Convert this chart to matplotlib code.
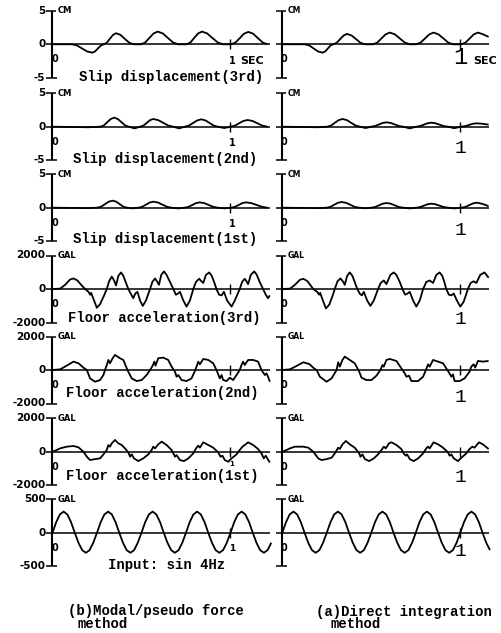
import numpy as np
import matplotlib
matplotlib.use('Agg')
import matplotlib.pyplot as plt

# values (time in s)
# left column = (b) modal/pseudo force, right column = (a) direct integration

# slip displacement (cm)
slip3_b_t = [0, 0.11, 0.138, 0.166, 0.195, 0.223, 0.239, 0.255, 0.272, 0.288, 0.305, 0.322, 0.340, 0.357, 0.382,
             0.406, 0.431, 0.455, 0.498, 0.521, 0.544, 0.568, 0.591, 0.620, 0.648, 0.677, 0.706, 0.753, 0.775,
             0.796, 0.818, 0.840, 0.869, 0.898, 0.928, 0.957, 1.004, 1.028, 1.052, 1.076, 1.100, 1.127, 1.154,
             1.181, 1.208]
slip3_b_v = [0, 0, -0.18, -0.62, -1.07, -1.25, -1.07, -0.62, -0.18, 0, 0.24, 0.82, 1.41, 1.65, 1.41, 0.82, 0.24,
             0, 0, 0.28, 0.95, 1.62, 1.9, 1.62, 0.95, 0.28, 0, 0, 0.28, 0.95, 1.62, 1.9, 1.62, 0.95, 0.28, 0, 0,
             0.27, 0.92, 1.58, 1.85, 1.58, 0.92, 0.27, 0]
slip3_a_t = [0, 0.127, 0.152, 0.176, 0.201, 0.226, 0.241, 0.256, 0.271, 0.286, 0.306, 0.325, 0.345, 0.364, 0.389,
             0.414, 0.439, 0.464, 0.510, 0.534, 0.557, 0.581, 0.604, 0.632, 0.660, 0.688, 0.716, 0.753, 0.777,
             0.802, 0.826, 0.850, 0.877, 0.905, 0.932, 0.959, 1.006, 1.029, 1.053, 1.076, 1.099, 1.127, 1.159]
slip3_a_v = [0, 0, -0.18, -0.62, -1.07, -1.25, -1.07, -0.62, -0.18, 0, 0.23, 0.78, 1.32, 1.55, 1.32, 0.78, 0.23,
             0, 0, 0.26, 0.88, 1.49, 1.75, 1.49, 0.88, 0.26, 0, 0, 0.26, 0.88, 1.49, 1.75, 1.49, 0.88, 0.26, 0, 0,
             0.26, 0.88, 1.49, 1.75, 1.5, 1.1]

slip2_b_t = [0, 0.2, 0.27, 0.289, 0.308, 0.327, 0.346, 0.367, 0.387, 0.408, 0.428, 0.461, 0.493, 0.511, 0.530,
             0.548, 0.566, 0.594, 0.622, 0.650, 0.678, 0.711, 0.743, 0.766, 0.790, 0.813, 0.836, 0.859, 0.883,
             0.906, 0.929, 0.965, 1.0, 1.024, 1.048, 1.072, 1.096, 1.124, 1.152, 1.180, 1.208]
slip2_b_v = [0, -0.08, 0, 0.2, 0.68, 1.15, 1.35, 1.15, 0.68, 0.2, 0, -0.25, 0, 0.17, 0.58, 0.98, 1.15, 0.98, 0.58,
             0.17, 0, -0.25, 0, 0.16, 0.55, 0.94, 1.1, 0.94, 0.55, 0.16, 0, -0.2, 0, 0.15, 0.5, 0.85, 1.0, 0.85,
             0.5, 0.15, 0]
slip2_a_t = [0, 0.2, 0.252, 0.274, 0.295, 0.317, 0.338, 0.363, 0.387, 0.412, 0.436, 0.468, 0.500, 0.521, 0.543,
             0.564, 0.585, 0.609, 0.632, 0.656, 0.679, 0.716, 0.753, 0.774, 0.795, 0.816, 0.837, 0.861, 0.884,
             0.908, 0.931, 0.965, 1.006, 1.027, 1.048, 1.069, 1.09, 1.12, 1.159]
slip2_a_v = [0, -0.08, 0, 0.17, 0.58, 0.98, 1.15, 0.98, 0.58, 0.17, 0, -0.2, 0, 0.1, 0.33, 0.56, 0.65, 0.56, 0.33,
             0.1, 0, -0.25, 0, 0.09, 0.3, 0.51, 0.6, 0.51, 0.3, 0.09, 0, -0.22, 0, 0.08, 0.25, 0.43, 0.5, 0.45,
             0.3]

slip1_b_t = [0, 0.2, 0.251, 0.273, 0.295, 0.316, 0.338, 0.358, 0.378, 0.398, 0.418, 0.450, 0.483, 0.504, 0.525,
             0.546, 0.567, 0.593, 0.618, 0.644, 0.669, 0.706, 0.743, 0.764, 0.785, 0.806, 0.827, 0.853, 0.878,
             0.904, 0.929, 0.966, 1.004, 1.025, 1.046, 1.066, 1.087, 1.117, 1.148, 1.178, 1.208]
slip1_b_v = [0, -0.06, 0, 0.15, 0.53, 0.9, 1.05, 0.9, 0.53, 0.15, 0, -0.1, 0, 0.13, 0.45, 0.77, 0.9, 0.77, 0.45,
             0.13, 0, -0.1, 0, 0.12, 0.4, 0.68, 0.8, 0.68, 0.4, 0.12, 0, -0.1, 0, 0.12, 0.4, 0.68, 0.8, 0.68, 0.4,
             0.12, 0]
slip1_a_t = [0, 0.2, 0.249, 0.27, 0.291, 0.312, 0.333, 0.358, 0.383, 0.407, 0.432, 0.466, 0.501, 0.522, 0.543,
             0.564, 0.585, 0.609, 0.632, 0.656, 0.679, 0.716, 0.753, 0.774, 0.795, 0.816, 0.837, 0.861, 0.884,
             0.908, 0.931, 0.968, 1.006, 1.028, 1.050, 1.071, 1.093, 1.12, 1.145, 1.159]
slip1_a_v = [0, -0.06, 0, 0.12, 0.43, 0.73, 0.85, 0.73, 0.43, 0.12, 0, -0.08, 0, 0.1, 0.35, 0.6, 0.7, 0.6, 0.35,
             0.1, 0, -0.1, 0, 0.09, 0.3, 0.51, 0.6, 0.51, 0.3, 0.09, 0, -0.1, 0, 0.11, 0.38, 0.64, 0.75, 0.6, 0.38,
             0.2]

# floor acceleration (gal)
acc3_b_t = [0, .043, .071, .099, .118, .140, .164, .183, .202, .211, .217, .230, .249, .267, .290, .305, .318,
            .333, .346, .357, .370, .385, .398, .413, .426, .439, .454, .465, .477, .492, .507, .525, .548, .561,
            .576, .589, .598, .611, .626, .641, .660, .679, .693, .705, .716, .735, .753, .772, .791, .806, .824,
            .837, .847, .862, .880, .895, .910, .921, .936, .950, .963, .981, 1.006, 1.024, 1.052, 1.065, 1.080,
            1.090, 1.099, 1.114, 1.133, 1.146, 1.164, 1.183, 1.198, 1.211, 1.221]
acc3_b_v = [0, 20, 250, 570, 630, 510, 210, 0, -170, -340, -230, -590, -1120, -910, -380, 0, 460, 740, 510, 210,
            780, 990, 780, 360, 0, -270, -550, -270, -170, -690, -1010, -690, 0, 420, 630, 420, 250, 840, 1050,
            840, 420, 0, -340, -270, -170, -690, -1050, -690, 0, 420, 610, 460, 360, 840, 990, 780, 360, 0, -340,
            -380, -170, -690, -1050, -690, 0, 420, 610, 460, 290, 840, 1050, 880, 420, 0, -340, -550, -380]
acc3_a_t = [0, .043, .071, .099, .118, .140, .174, .196, .207, .213, .226, .245, .264, .282, .295, .310, .327,
            .340, .351, .364, .379, .394, .409, .421, .436, .447, .458, .477, .495, .514, .538, .553, .570, .585,
            .607, .626, .641, .660, .675, .690, .701, .716, .735, .753, .772, .791, .809, .828, .847, .865, .884,
            .899, .912, .921, .936, .950, .963, .981, 1.0, 1.019, 1.043, 1.058, 1.075, 1.090, 1.112, 1.136, 1.159]
acc3_a_v = [0, 20, 250, 550, 610, 480, 0, -170, -340, -230, -630, -1160, -930, -420, 0, 460, 630, 460, 250, 780,
            990, 780, 360, 0, -290, -380, -170, -690, -1010, -690, 0, 360, 510, 290, 840, 990, 840, 420, 0, -340,
            -290, -170, -690, -1050, -690, 0, 420, 510, 360, 840, 990, 780, 360, 0, -340, -380, -270, -690,
            -1050, -760, 0, 360, 460, 360, 840, 990, 670]

acc2_b_t = [0, .043, .080, .118, .146, .174, .193, .211, .239, .267, .286, .295, .305, .314, .323, .338, .351,
            .379, .398, .421, .445, .473, .501, .529, .548, .563, .572, .579, .594, .622, .650, .669, .688, .697,
            .707, .725, .753, .781, .800, .809, .819, .828, .847, .875, .903, .921, .940, .950, .959, .978, .996,
            1.015, 1.034, 1.052, 1.062, 1.071, 1.080, 1.099, 1.127, 1.155, 1.174, 1.193, 1.202, 1.211, 1.221]
acc2_b_v = [0, 40, 260, 500, 400, 140, 0, -500, -700, -600, -300, 0, 300, 600, 400, 700, 900, 700, 600, 0, -500,
            -660, -600, -300, 0, 260, 500, 260, 700, 740, 600, 200, -100, -400, -300, -600, -660, -500, -60, 200,
            500, 340, 660, 600, 400, 0, -500, -300, -600, -660, -460, -600, -300, 0, 300, 500, 300, 600, 600, 500,
            0, -300, -200, -400, -700]
acc2_a_t = [0, .043, .080, .118, .151, .178, .193, .211, .249, .277, .305, .314, .323, .338, .351, .379, .407,
            .432, .445, .473, .501, .529, .551, .563, .570, .585, .604, .641, .669, .688, .697, .712, .725, .763,
            .791, .809, .819, .828, .847, .875, .903, .931, .950, .959, .968, .996, 1.024, 1.052, 1.062, 1.075,
            1.084, 1.099, 1.127, 1.159]
acc2_a_v = [0, 40, 240, 460, 360, 100, 0, -400, -700, -500, 0, 460, 200, 600, 800, 600, 400, -100, -460, -600,
            -600, -340, 0, 300, 200, 600, 660, 540, 100, -200, -400, -340, -660, -660, -400, 60, 340, 200, 600,
            500, 400, -60, -400, -260, -660, -660, -500, -100, 200, 340, 140, 540, 500, 540]

acc1_b_t = [0, .024, .043, .080, .118, .146, .174, .193, .211, .239, .267, .286, .305, .314, .323, .333, .351,
            .370, .389, .407, .426, .436, .445, .458, .482, .510, .538, .557, .566, .576, .594, .613, .641, .669,
            .679, .688, .697, .716, .738, .763, .791, .809, .819, .828, .847, .875, .903, .931, .944, .955, .968,
            .987, 1.006, 1.034, 1.052, 1.067, 1.080, 1.099, 1.127, 1.155, 1.174, 1.187, 1.198, 1.209, 1.221]
acc1_b_v = [0, 100, 200, 300, 340, 260, 0, -300, -500, -440, -400, -160, 100, 400, 300, 500, 700, 500, 400, 200,
            -40, -300, -160, -400, -560, -400, -160, 100, 300, 200, 440, 600, 400, 100, -100, -300, -200, -500,
            -560, -400, -100, 240, 360, 240, 560, 400, 240, -40, -300, -240, -500, -600, -400, -160, 100, 300,
            400, 560, 400, 160, -100, -400, -240, -440, -640]
acc1_a_t = [0, .024, .043, .071, .118, .146, .174, .202, .221, .249, .277, .295, .314, .323, .338, .357, .379,
            .407, .432, .439, .450, .464, .488, .514, .538, .557, .570, .581, .600, .613, .641, .669, .682, .693,
            .701, .716, .738, .763, .791, .809, .819, .828, .850, .875, .903, .931, .940, .950, .963, .987, 1.006,
            1.034, 1.052, 1.067, 1.080, 1.105, 1.127, 1.159]
acc1_a_v = [0, 100, 200, 300, 300, 240, 0, -400, -500, -440, -360, -100, 240, 160, 440, 640, 440, 240, -100, -300,
            -160, -440, -560, -400, -160, 100, 300, 200, 500, 560, 400, 160, -100, -240, -160, -440, -560, -400,
            -100, 200, 300, 200, 560, 440, 240, -40, -240, -160, -400, -560, -360, -100, 160, 300, 240, 560, 440,
            160]

# input acceleration sin 4Hz (gal), read every 1/48 s
input_v = [0, 158, 273, 315, 273, 158, 0, -150, -260, -300, -260, -150,
           0, 158, 273, 315, 273, 158, 0, -150, -260, -300, -260, -150,
           0, 158, 273, 315, 273, 158, 0, -150, -260, -300, -260, -150,
           0, 158, 273, 315, 273, 158, 0, -150, -260, -300, -260, -150,
           0, 158, 273, 315, 273, 158, 0, -150, -260, -300, -260, -150]
input_t = np.arange(len(input_v)) / 48

titles = ['Slip displacement(3rd)', 'Slip displacement(2nd)', 'Slip displacement(1st)',
          'Floor acceleration(3rd)', 'Floor acceleration(2nd)', 'Floor acceleration(1st)',
          'Input: sin 4Hz']
limits = [5, 5, 5, 2000, 2000, 2000, 500]
units = ['CM', 'CM', 'CM', 'GAL', 'GAL', 'GAL', 'GAL']

left_data = [(slip3_b_t, slip3_b_v), (slip2_b_t, slip2_b_v), (slip1_b_t, slip1_b_v),
             (acc3_b_t, acc3_b_v), (acc2_b_t, acc2_b_v), (acc1_b_t, acc1_b_v), (input_t, input_v)]
right_data = [(slip3_a_t, slip3_a_v), (slip2_a_t, slip2_a_v), (slip1_a_t, slip1_a_v),
              (acc3_a_t, acc3_a_v), (acc2_a_t, acc2_a_v), (acc1_a_t, acc1_a_v),
              (input_t[:57], input_v[:57])]

# layout in pixels
W, H = 502, 633
PX_PER_S = 178.0
zero_y = [44.3, 126.7, 207.7, 289, 370, 451.7, 532.7]
half_h = 33.5
title_x = [79, 73, 73, 68, 66, 66, 108]
title_y = [76.7, 159.3, 239, 317.7, 393.3, 475.7, 565]
right_one_y = [57, 149, 230, 319, 397, 477, 551]

mono = 'Liberation Mono'

fig = plt.figure(figsize=(W / 100, H / 100), dpi=100)
fig.patch.set_facecolor('white')


def fx(px):
    return px / W


def fy(py):
    return 1 - py / H


def draw_panel(row, col, t, v):
    L = limits[row]
    if col == 0:
        x_axis, width, t_end = 52.5, 232, 1.222
    else:
        x_axis, width, t_end = 282.3, 215, 1.161
    z = zero_y[row]
    ax = fig.add_axes([fx(x_axis), fy(z + half_h), width / W, 2 * half_h / H])
    ax.set_xlim(0, width / PX_PER_S)
    ax.set_ylim(-L, L)
    ax.axis('off')
    sx = 1 / PX_PER_S
    sy = L / half_h
    k = dict(color='black', clip_on=False, solid_capstyle='butt')
    ax.plot(t, v, lw=1.3, **k)
    ax.plot([0, t_end], [0, 0], lw=1.1, **k)
    ax.plot([0, 0], [-L, L], lw=1.5, **k)
    ax.plot([-6 * sx, 4 * sx], [L, L], lw=1.1, **k)
    ax.plot([-6 * sx, 5 * sx], [-L, -L], lw=1.1, **k)
    ax.plot([-6 * sx, 0], [0, 0], lw=1.1, **k)
    ax.plot([1, 1], [-5 * sy, 5 * sy], lw=1.0, **k)
    ax.text(5 * sx, L, units[row], fontsize=6 if col == 0 else 5.5, fontweight='bold',
            ha='left', va='center', clip_on=False)
    ax.text(2.0 * sx, -15 * sy, '0', fontsize=7, fontweight='bold', ha='center', va='center')
    if col == 0:
        for val in (L, 0, -L):
            ax.text(-7 * sx, val, str(val), fontsize=7.5, fontweight='bold', ha='right', va='center')
    return ax


for r in range(7):
    draw_panel(r, 0, *left_data[r])
    draw_panel(r, 1, *right_data[r])
    fig.text(fx(title_x[r]), fy(title_y[r]), titles[r], family=mono, fontweight='bold',
             fontsize=10, ha='left', va='center')
    fig.text(fx(460.7), fy(right_one_y[r]), '1', family=mono,
             fontsize=17 if r == 0 else 14, ha='center', va='center')

# small "1" marks in the left column
for py, fs in [(61, 7), (143.3, 7), (224.3, 7), (464.3, 5), (548.3, 6.5)]:
    fig.text(fx(232), fy(py), '1', fontsize=fs, fontweight='bold', ha='center', va='center')

fig.text(fx(240), fy(61), 'SEC', fontsize=8, fontweight='bold', ha='left', va='center')
fig.text(fx(473), fy(61), 'SEC', fontsize=8, fontweight='bold', ha='left', va='center')

fig.text(fx(68), fy(610.7), '(b)Modal/pseudo force', family=mono, fontweight='bold',
         fontsize=10, ha='left', va='center')
fig.text(fx(78), fy(624), 'method', family=mono, fontweight='bold', fontsize=10, ha='left', va='center')
fig.text(fx(316), fy(611.7), '(a)Direct integration', family=mono, fontweight='bold',
         fontsize=10, ha='left', va='center')
fig.text(fx(331), fy(624.3), 'method', family=mono, fontweight='bold', fontsize=10, ha='left', va='center')

fig.savefig('out.png', dpi=100)
